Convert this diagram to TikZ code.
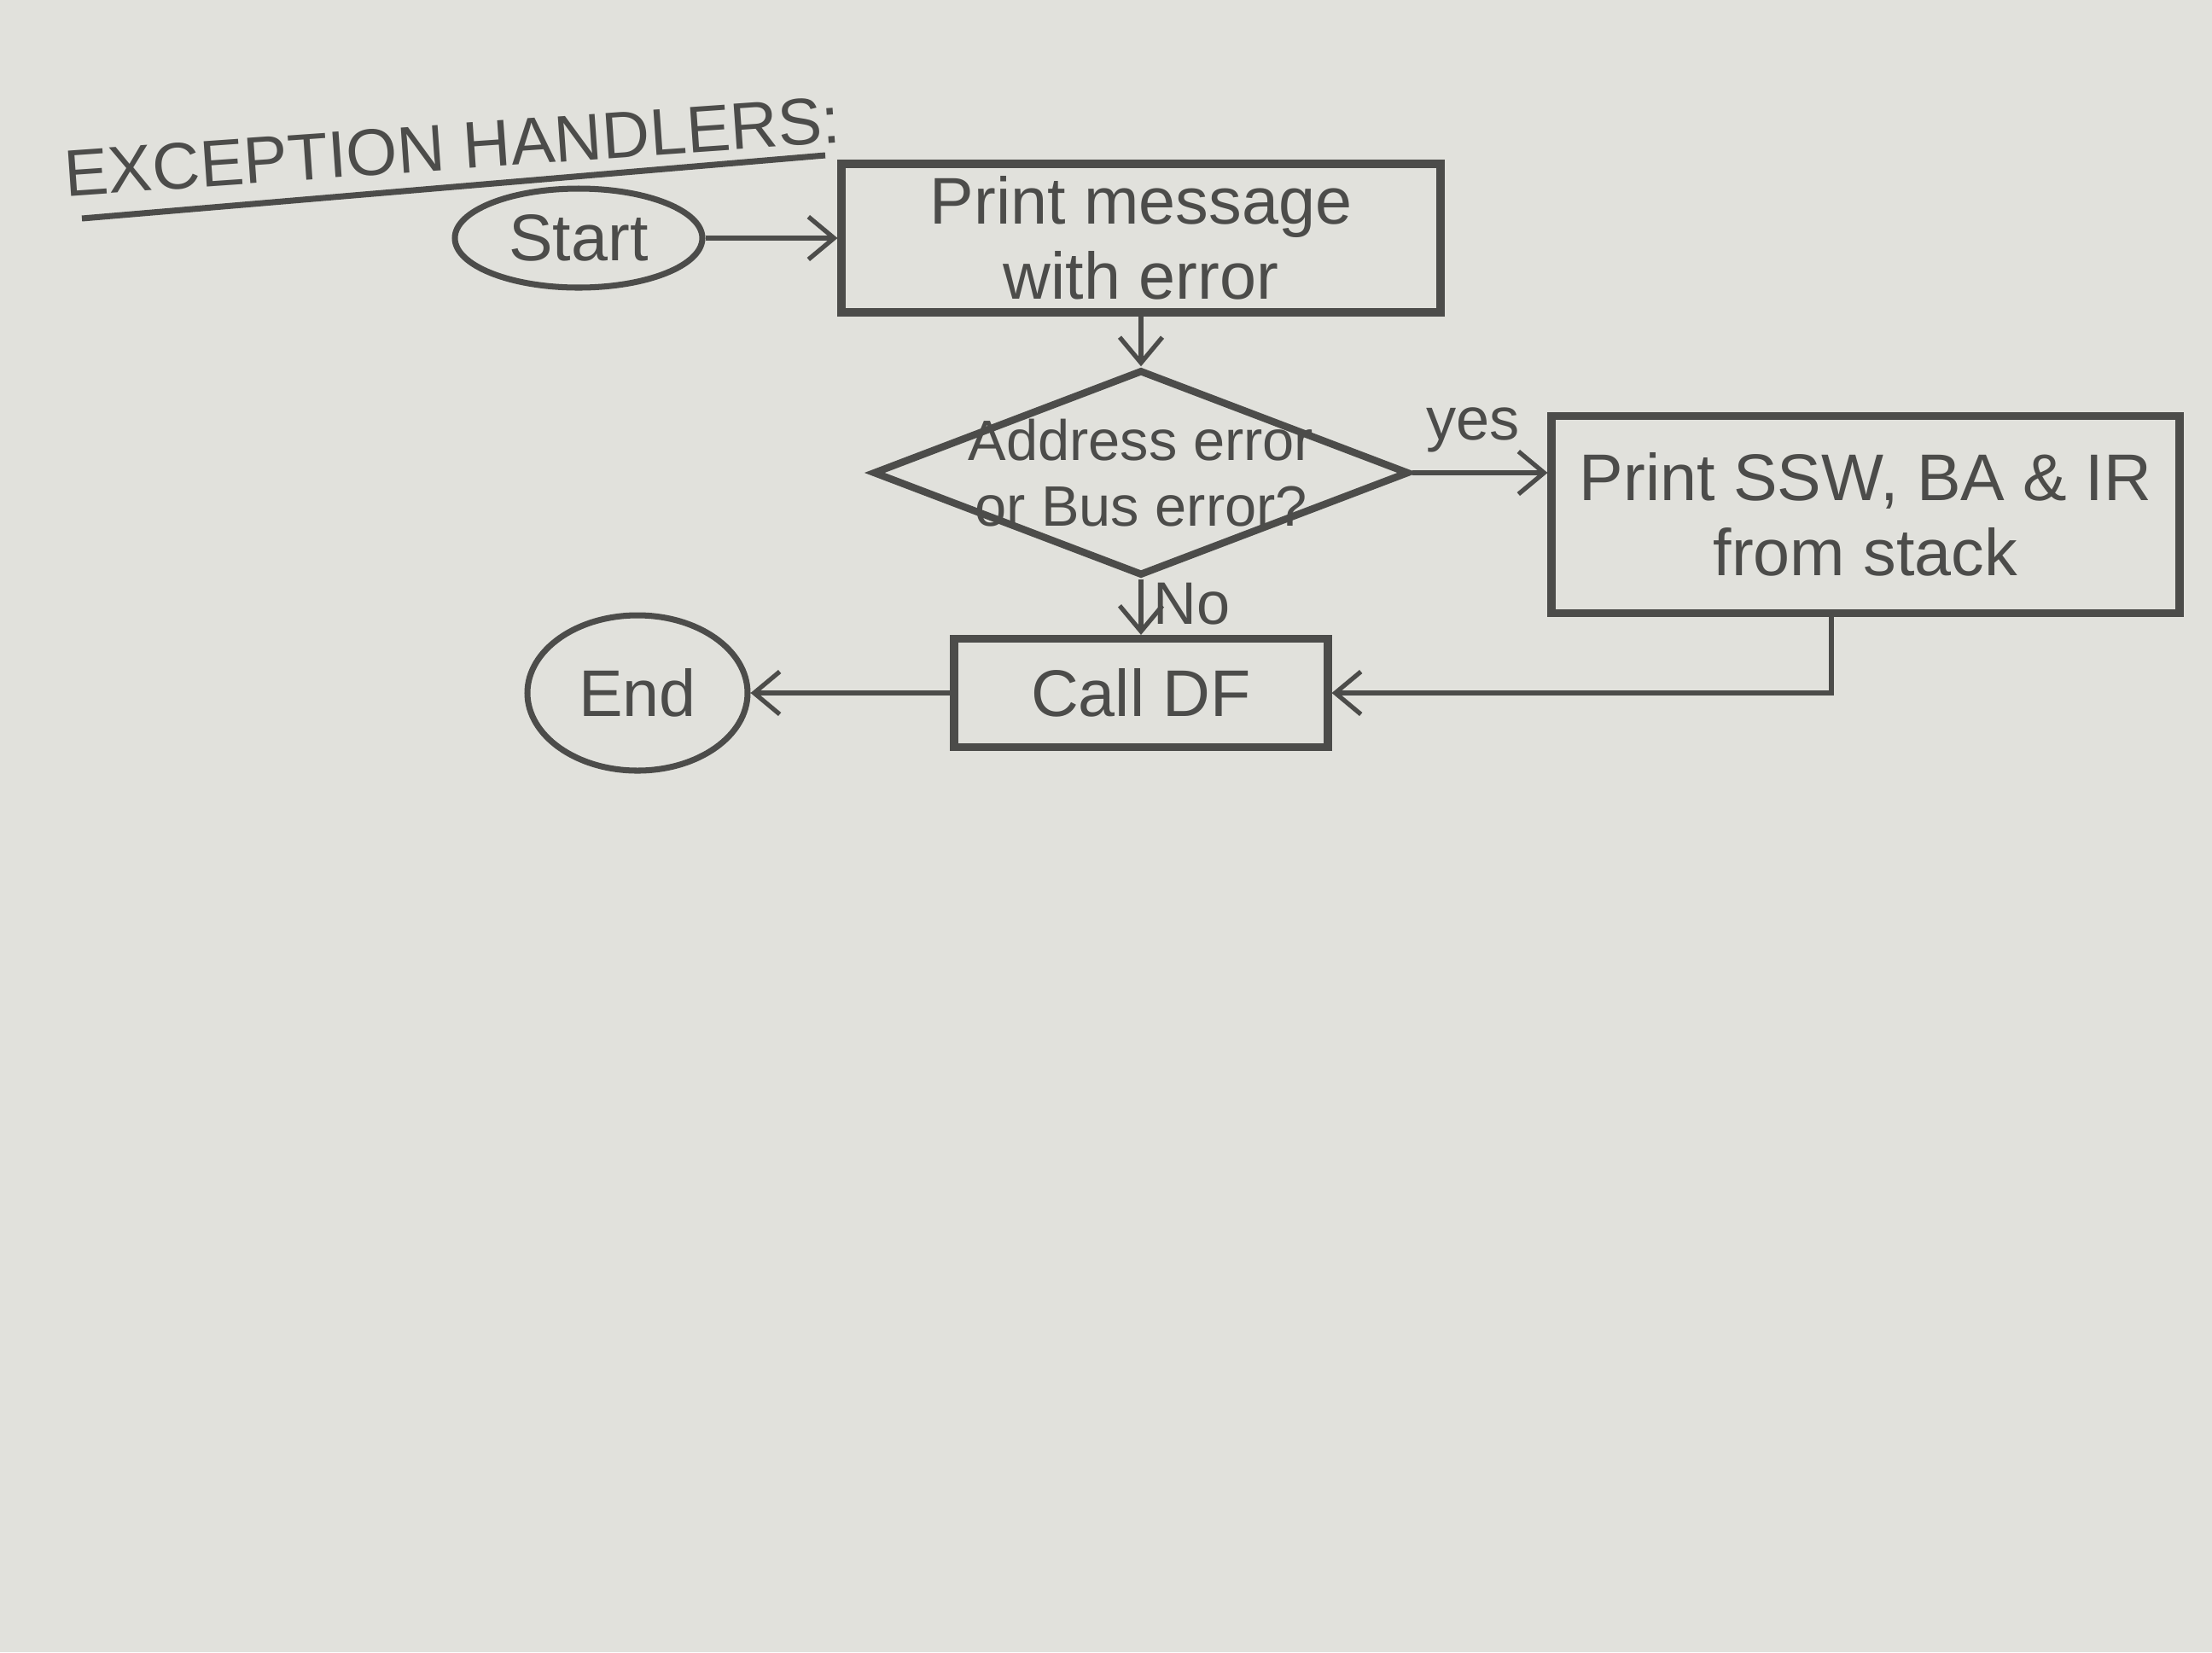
\documentclass[tikz,border=0pt]{standalone}
\usepackage{fontspec}
\setmainfont{Liberation Sans}
\usepackage{tikz}
\usetikzlibrary{
  arrows.meta,
  positioning,
  shapes.geometric,
}
\definecolor{pencil}{HTML}{4C4C4A}
\definecolor{paper}{HTML}{E1E1DC}

\tikzset{
  handtext/.style={text=pencil, font=\fontsize{22}{25}\selectfont},
  procbox/.style={handtext, draw=pencil, rectangle, line width=2.6pt, align=center, inner sep=0pt},
  termnode/.style={handtext, draw=pencil, ellipse, line width=2pt, inner sep=0pt},
  decbox/.style={handtext, draw=pencil, diamond, aspect=2.6, line width=2.4pt, align=center,
    inner xsep=-8mm, inner ysep=-4mm, font=\fontsize{19}{22}\selectfont},
  edgelabel/.style={handtext, font=\fontsize{20}{22}\selectfont},
}

\begin{document}
\begin{tikzpicture}[->, >={Straight Barb[length=3mm, width=5mm]}, line width=1.5pt, draw=pencil]
  \fill[-, paper] (0,0) rectangle (25.92,-19.36);
  \useasboundingbox (0,0) rectangle (25.92,-19.36);

  \node[handtext, rotate=4, font=\fontsize{22}{24}\selectfont] (title) at (5.3,-1.72) {EXCEPTION HANDLERS:};
  \draw[-, line width=2pt] (0.96,-2.56) -- (9.67,-1.82);

  \node[termnode, minimum width=2.9cm, minimum height=1.16cm] (start) at (6.78,-2.79) {Start};
  \node[procbox, minimum width=7.02cm, minimum height=1.74cm] (msg) at (13.37,-2.79) {Print message\\with error};
  \node[decbox, minimum width=6.28cm, minimum height=2.41cm] (addr) at (13.37,-5.54) {Address error\\or Bus error?};
  \node[procbox, minimum width=7.36cm, minimum height=2.31cm] (ssw) at (21.86,-6.03) {Print SSW, BA \& IR\\from stack};
  \node[procbox, minimum width=4.38cm, minimum height=1.27cm] (calldf) at (13.37,-8.12) {Call DF};
  \node[termnode, minimum width=2.58cm, minimum height=1.82cm] (end) at (7.47,-8.12) {End};

  \draw (start) -- (msg);
  \draw (msg) -- (addr);
  \draw (addr.east) -- node[edgelabel, above=1mm, pos=0.45] {yes} (addr.east -| ssw.west);
  \draw (addr.south) -- node[edgelabel, right, pos=0.45] {No} (calldf.north);
  \draw ([xshift=-4mm]ssw.south) |- (calldf.east);
  \draw (calldf) -- (end);
\end{tikzpicture}
\end{document}
